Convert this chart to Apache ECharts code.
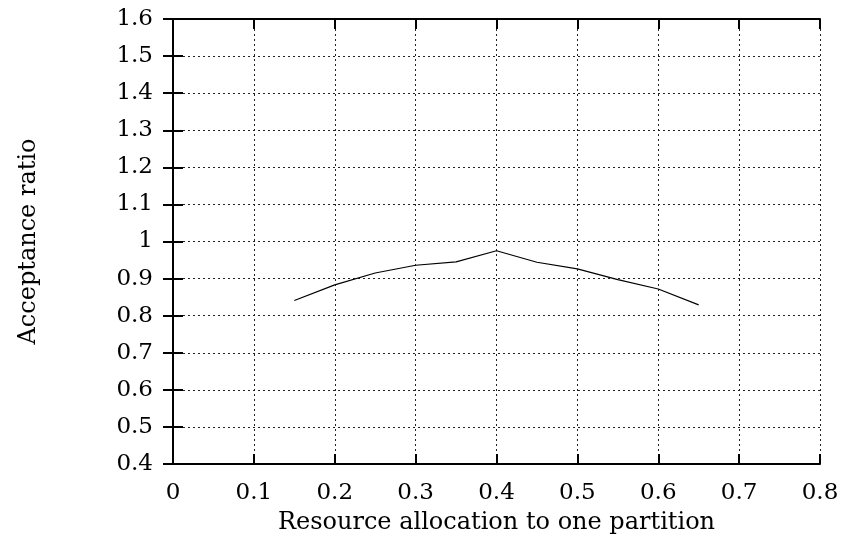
<!DOCTYPE html>
<html lang="en">
<head>
    <meta charset="UTF-8">
    <title>Acceptance ratio</title>
    <script src="https://cdn.jsdelivr.net/npm/echarts@6/dist/echarts.min.js"></script>
    <style>
        body { margin: 0; background: #fff; }
        #chart { width: 842px; height: 548px; }
    </style>
</head>
<body>
<div id="chart"></div>
<script type="text/javascript">
    // allocation share vs acceptance ratio
    var allocation = [0.15, 0.2, 0.25, 0.3, 0.35, 0.4, 0.45, 0.5, 0.55, 0.6, 0.65];
    var acceptance = [0.841, 0.883, 0.915, 0.936, 0.945, 0.975, 0.944, 0.926, 0.897, 0.872, 0.829];

    var font = 'DejaVu Serif';
    var chart = echarts.init(document.getElementById('chart'));

    var points = [];
    for (var i = 0; i < allocation.length; i++) {
        points.push([allocation[i], acceptance[i]]);
    }

    var dotted = { show: true, lineStyle: { color: '#222', type: [2, 3], width: 1 } };
    var tickIn = { show: true, inside: true, length: 10, lineStyle: { color: '#000', width: 2 } };
    var axLine = { show: true, lineStyle: { color: '#000', width: 2 } };

    chart.setOption({
        animation: false,
        grid: { left: 173, right: 22, top: 19, bottom: 84 },
        xAxis: [{
            type: 'value', min: 0, max: 0.8, interval: 0.1,
            name: 'Resource allocation to one partition',
            nameLocation: 'middle', nameGap: 47,
            nameTextStyle: { fontFamily: font, fontSize: 24, color: '#000' },
            axisLine: axLine, axisTick: tickIn, splitLine: dotted,
            axisLabel: { fontFamily: font, fontSize: 23, color: '#000', margin: 18,
                formatter: function (v) { return +v.toFixed(1); } }
        }, {
            type: 'value', min: 0, max: 0.8, interval: 0.1, position: 'top',
            axisLine: axLine, axisTick: tickIn, splitLine: { show: false },
            axisLabel: { show: false }
        }],
        yAxis: [{
            type: 'value', min: 0.4, max: 1.6, interval: 0.1,
            name: 'Acceptance ratio',
            nameLocation: 'middle', nameGap: 132, nameRotate: 90,
            nameTextStyle: { fontFamily: font, fontSize: 24, color: '#000' },
            axisLine: axLine, axisTick: tickIn, splitLine: dotted,
            axisLabel: { fontFamily: font, fontSize: 23, color: '#000', margin: 20,
                formatter: function (v) { return +v.toFixed(1); } }
        }, {
            type: 'value', min: 0.4, max: 1.6, interval: 0.1, position: 'right',
            axisLine: axLine, axisTick: tickIn, splitLine: { show: false },
            axisLabel: { show: false }
        }],
        series: [{
            type: 'line',
            data: points,
            symbol: 'none',
            lineStyle: { color: '#000', width: 1.2 }
        }]
    });
</script>
</body>
</html>
